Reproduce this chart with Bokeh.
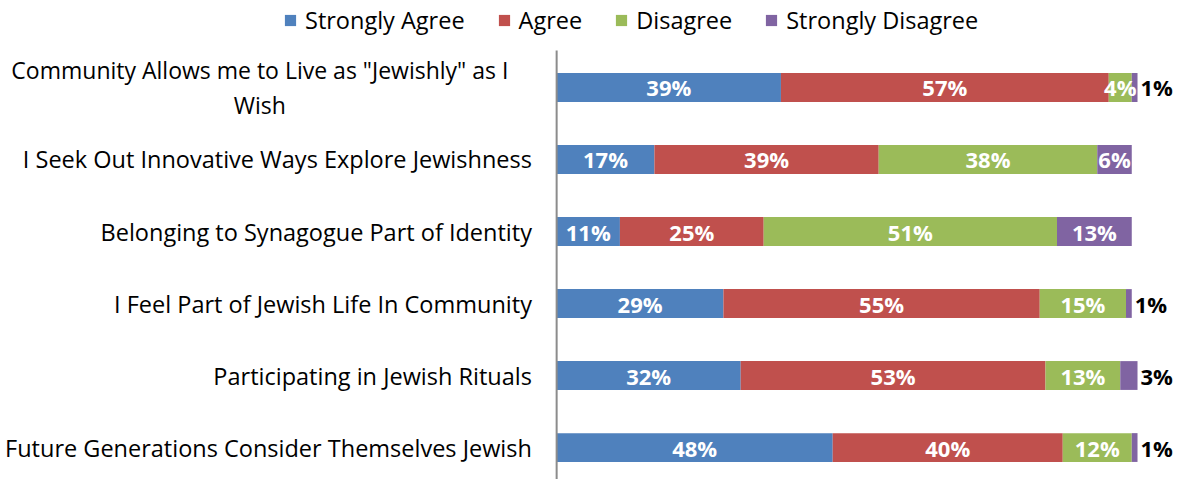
from bokeh.plotting import figure
from bokeh.models import ColumnDataSource, Range1d, Legend, LegendItem
from bokeh.core.properties import value
from bokeh.embed import file_html
from bokeh.resources import INLINE

categories = ['Community Allows me to Live as "Jewishly" as I\nWish',
              "I Seek Out Innovative Ways Explore Jewishness",
              "Belonging to Synagogue Part of Identity",
              "I Feel Part of Jewish Life In Community",
              "Participating in Jewish Rituals",
              "Future Generations Consider Themselves Jewish"]
series = ["Strongly Agree", "Agree", "Disagree", "Strongly Disagree"]
strongly_agree = [39, 17, 11, 29, 32, 48]
agree = [57, 39, 25, 55, 53, 40]
disagree = [4, 38, 51, 15, 13, 12]
strongly_disagree = [1, 6, 13, 1, 3, 1]
colors = ["#4F81BD", "#C0504D", "#9BBB59", "#8064A2"]

FONT = "Open Sans"
rows = list(range(len(categories)))
data = {"r": rows, "cat": categories}
vals = [strongly_agree, agree, disagree, strongly_disagree]
for s, v in zip(series, vals):
    data[s] = v
src = ColumnDataSource(data)

Y_TOP, Y_BOTTOM = -1.208, 5.444
AXIS_TOP = -0.514
p = figure(width=1179, height=479, output_backend="svg", toolbar_location=None,
           x_range=Range1d(-96.7, 108.3), y_range=Range1d(Y_BOTTOM, Y_TOP),
           min_border=0)
p.xaxis.visible = False
p.yaxis.visible = False
p.grid.visible = False
p.outline_line_color = None

renderers = p.hbar_stack(series, y="r", height=0.4, color=colors, source=src, line_color=None)

# axis line
p.segment(x0=[0], y0=[AXIS_TOP], x1=[0], y1=[Y_BOTTOM], line_color="#8c8c8c", line_width=2)

# category labels
single_x, single_y, single_t = [], [], []
multi_x, multi_y, multi_t = [], [], []
for i, c in zip(rows, categories):
    if "\n" in c:
        multi_x.append(-51.6); multi_y.append(i); multi_t.append(c)
    else:
        single_x.append(-4.3); single_y.append(i); single_t.append(c)
p.text(x=single_x, y=single_y, text=single_t, text_align="right", text_baseline="middle",
       text_font=value(FONT), text_font_size="23.5px", text_color="#000000")
p.text(x=multi_x, y=multi_y, text=multi_t, text_align="center", text_baseline="middle",
       text_font=value(FONT), text_font_size="23px", text_color="#000000", text_line_height=1.07)

# data labels
in_x, in_y, in_t = [], [], []
out_x, out_y, out_t = [], [], []
for i in rows:
    left = 0
    for k, v in enumerate(vals):
        val = v[i]
        if k == 3 and val < 5:
            out_x.append(left + val); out_y.append(i); out_t.append(f"{val}%")
        else:
            in_x.append(left + val / 2); in_y.append(i); in_t.append(f"{val}%")
        left += val
p.text(x=in_x, y=in_y, text=in_t, text_align="center", text_baseline="middle",
       text_font=value(FONT), text_font_size="22px", text_font_style="bold", text_color="white")
p.text(x=out_x, y=out_y, text=out_t, text_align="left", text_baseline="middle", x_offset=3,
       text_font=value(FONT), text_font_size="22px", text_font_style="bold", text_color="black")

legend = Legend(items=[LegendItem(label=s, renderers=[r]) for s, r in zip(series, renderers)],
                orientation="horizontal", location=(283, 443), glyph_width=14, glyph_height=14,
                label_standoff=8, spacing=32, padding=0, margin=0, border_line_color=None,
                label_text_font=FONT, label_text_font_size="23.5px", label_text_color="#000000",
                background_fill_alpha=0)
p.add_layout(legend)

open("out.html", "w").write(file_html(p, INLINE))
